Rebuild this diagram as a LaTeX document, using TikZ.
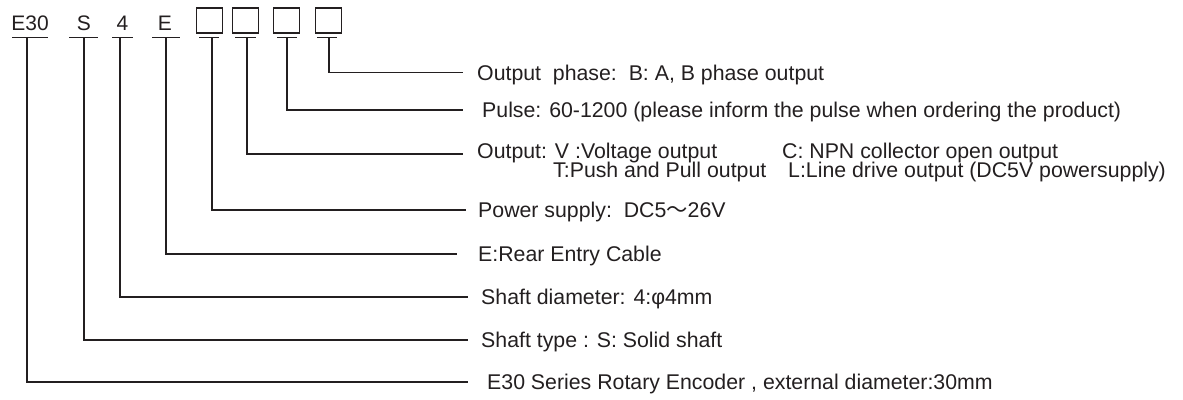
\documentclass[tikz,border=0pt]{standalone}
\usepackage{fontspec}
\setmainfont{Liberation Sans}
\newfontfamily\cjk{Noto Sans CJK SC}
\usepackage{xcolor}
\usetikzlibrary{positioning}
\definecolor{ink}{HTML}{231F20}

\begin{document}
\begin{tikzpicture}[x=1pt,y=-1pt,color=ink,
  code/.style={inner sep=0pt,anchor=base,font=\fontsize{21}{24}\selectfont},
  slot/.style={draw,line width=1.1pt,minimum width=26pt,minimum height=25pt,inner sep=0pt},
  lab/.style={anchor=west,inner sep=0pt,text height=15.2pt,text depth=0pt,font=\fontsize{21.3}{24}\selectfont},
  lead/.style={line width=1.2pt}]
\useasboundingbox (0,0) rectangle (1183,399);
\node[code] (series) at (30,30) {E30};
\node[code] (shaft) at (84,30) {S};
\node[code] (diam) at (122.5,30) {4};
\node[code] (entry) at (165,30) {E};
\node[slot] (b1) at (209.5,20.5) {};
\node[slot] (b2) at (245.5,20.5) {};
\node[slot] (b3) at (286.5,20.5) {};
\node[slot] (b4) at (328.5,20.5) {};
\foreach \x/\w in {12/36,69/29,112/21,152/28,199/20,235/21,277/20,317/20}
  \draw[lead] (\x,37.5) -- ++(\w,0);
\coordinate (tseries) at (27,37.5);
\coordinate (tshaft) at (84,37.5);
\coordinate (tdiam) at (120,37.5);
\coordinate (tentry) at (166,37.5);
\coordinate (tb1) at (212,37.5);
\coordinate (tb2) at (247,37.5);
\coordinate (tb3) at (287,37.5);
\coordinate (tb4) at (329,37.5);
\node[lab] (phase) at (477,72.7) {Output\ \ phase:\ \ B: A, B phase output};
\node[lab] (pulse) at (482,110) {Pulse: 60-1200 (please inform the pulse when ordering the product)};
\node[lab,text height=8pt] (out) at (477,154) {Output: V :Voltage output};
\node[lab,text height=8pt] (outc) at (782,154) {C: NPN collector open output};
\node[lab] (outt) at (553,169.4) {T:Push and Pull output};
\node[lab] (outl) at (788,169.4) {L:Line drive output (DC5V powersupply)};
\node[lab] (power) at (478,210) {Power supply:\ \ DC5{\cjk ～}26V};
\node[lab] (rear) at (478,254) {E:Rear Entry Cable};
\node[lab] (sdiam) at (481,297) {Shaft diameter: 4:φ4mm};
\node[lab] (stype) at (481,340) {Shaft type : S: Solid shaft};
\node[lab] (enc) at (487,382) {E30 Series Rotary Encoder , external diameter:30mm};
\draw[lead,shorten >=14pt] (tb4) |- (phase.west);
\draw[lead,shorten >=19pt] (tb3) |- (pulse.west);
\draw[lead,shorten >=14pt] (tb2) |- (out.west);
\draw[lead,shorten >=12pt] (tb1) |- (power.west);
\draw[lead,shorten >=21pt] (tentry) |- (rear.west);
\draw[lead,shorten >=13pt] (tdiam) |- (sdiam.west);
\draw[lead,shorten >=13pt] (tshaft) |- (stype.west);
\draw[lead,shorten >=19pt] (tseries) |- (enc.west);
\end{tikzpicture}
\end{document}
